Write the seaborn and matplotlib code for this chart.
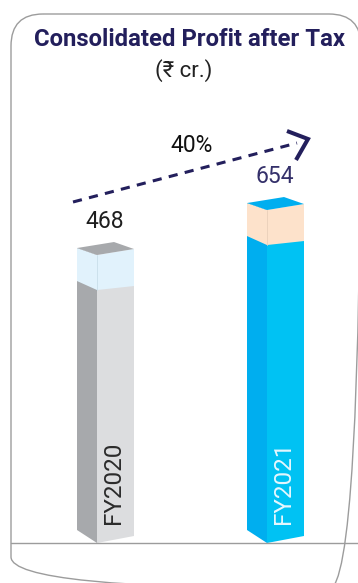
import numpy as np
import pandas as pd
import matplotlib
matplotlib.use("Agg")
import matplotlib.pyplot as plt
import seaborn as sns
from matplotlib.patches import Polygon, FancyBboxPatch
from matplotlib.lines import Line2D

# ---- data -------------------------------------------------------------
years = ["FY2020", "FY2021"]
profit = [468, 654]
growth_label = "40%"
title = "Consolidated Profit after Tax"
unit_label = "(\u20b9 cr.)"

# ---- styling ----------------------------------------------------------
front_colors = ["#DCDDDF", "#00C2F3"]
side_colors = ["#A7A9AC", "#00AEEF"]
top_colors = ["#A7A9AC", "#00AEEF"]
cap_colors = ["#E1F2FC", "#FDE2CB"]
cap_edge_colors = ["#C9DEEA", "#E9D0BA"]
year_text_colors = ["#2B2B2B", "#E6F7FE"]
value_text_colors = ["#1E1E1E", "#34306A"]
NAVY = "#231F5C"
FRAME = "#9C9C9C"

W, H = 358, 583
sns.set_theme(style="white")
plt.rcParams["font.family"] = ["Roboto", "DejaVu Sans"]
NARROW = ["Liberation Sans Narrow", "Roboto", "DejaVu Sans"]

fig = plt.figure(figsize=(W / 100, H / 100), dpi=100)
ax = fig.add_axes([0, 0, 1, 1])

df = pd.DataFrame({"year": years, "profit": profit})

# pixel geometry of the value axis
PX_PER_CAT = 170.0     # horizontal distance between bar centres
PX_PER_UNIT = 0.2419   # vertical pixels per crore
BASE = -722.5          # value sitting on the floor line
FLOOR_PX = 543         # floor line, pixels from the top
X0_PX = 115.5          # centre of the first bar front

bar_w = 37 / PX_PER_CAT
sns.barplot(data=df, x="year", y="profit", hue="year", palette=front_colors,
            width=bar_w, saturation=1, legend=False, ax=ax, linewidth=0,
            zorder=2)

ax.set_xlim(-X0_PX / PX_PER_CAT, (W - X0_PX) / PX_PER_CAT)
ax.set_ylim(BASE - (H - FLOOR_PX) / PX_PER_UNIT, BASE + FLOOR_PX / PX_PER_UNIT)
ax.set_axis_off()


def ux(px):
    return px / PX_PER_CAT


def uy(px):
    return px / PX_PER_UNIT


SIDE = ux(20)
CAP = uy(35)

bars = [p for p in ax.patches]
for i, patch in enumerate(bars):
    x0 = patch.get_x()
    x1 = x0 + patch.get_width()
    top = patch.get_height()
    bot = BASE
    # bar rises from the floor line to its value
    patch.set_y(bot)
    patch.set_height(top - bot)
    front = Polygon([(x0, top + uy(6)), (x1, top + uy(6)), (x1, bot + uy(7)),
                     (x0, bot)], closed=True, transform=ax.transData)
    patch.set_clip_path(front)

    left = Polygon([(x0 - SIDE, top + uy(7)), (x0, top), (x0, bot),
                    (x0 - SIDE, bot + uy(13))], closed=True,
                   facecolor=side_colors[i], edgecolor="none", zorder=2)
    ax.add_patch(left)

    cap_front = Polygon([(x0, top), (x1, top + uy(6)), (x1, top - CAP + uy(4)),
                         (x0, top - CAP)], closed=True,
                        facecolor=cap_colors[i], edgecolor="none", zorder=3)
    cap_left = Polygon([(x0 - SIDE, top + uy(7)), (x0, top), (x0, top - CAP),
                        (x0 - SIDE, top - CAP + uy(9))], closed=True,
                       facecolor=cap_colors[i], edgecolor="none", zorder=3)
    lid = Polygon([(x0 - SIDE, top + uy(7)), (x0, top), (x1, top + uy(6)),
                   (x1 - SIDE, top + uy(13))], closed=True,
                  facecolor=top_colors[i], edgecolor="none", zorder=3)
    for p in (cap_front, cap_left, lid):
        ax.add_patch(p)
    ax.plot([x0, x0], [top, top - CAP], color=cap_edge_colors[i], lw=0.6,
            zorder=4)

    # value above the bar
    ax.text(x0 + (x1 - x0) / 2 - ux(11), top + uy(34), f"{profit[i]}",
            ha="center", va="center", fontsize=16.5, fontweight="normal",
            color=value_text_colors[i], zorder=5)
    # year written up the bar front
    ax.text(x0 + (x1 - x0) / 2 - ux(2), bot + uy(60), years[i], rotation=90,
            ha="center", va="center", fontsize=17.5, fontweight="normal",
            color=year_text_colors[i], zorder=5)

# ---- overlay in pixel coordinates: frame, titles, growth arrow ---------
ov = fig.add_axes([0, 0, 1, 1], facecolor="none")
ov.set_xlim(0, W)
ov.set_ylim(H, 0)
ov.set_axis_off()

frame = FancyBboxPatch((11, 14), 350, 575,
                       boxstyle="round,pad=0,rounding_size=32",
                       facecolor="none", edgecolor=FRAME, lw=1.0)
ov.add_patch(frame)
ov.add_line(Line2D([11, W], [FLOOR_PX, FLOOR_PX], color=FRAME, lw=1.0))

ov.text(190, 39, title, ha="center", va="center", fontsize=17.2,
        fontweight="bold", color=NAVY, family=NARROW)
ov.text(184, 71, unit_label, ha="center", va="center", fontsize=16,
        color="#222222", family=NARROW)

ov.add_line(Line2D([73, 297], [202, 143], color=NAVY, lw=2.2,
                   linestyle=(0, (3.0, 2.4)), solid_capstyle="butt",
                   dash_capstyle="butt"))
ov.add_line(Line2D([287, 308, 296], [131, 139, 160], color=NAVY, lw=2.9,
                   solid_joinstyle="miter", solid_capstyle="butt"))
ov.text(192, 145, growth_label, ha="center", va="center", fontsize=16.5,
        fontweight="normal", color="#111111")

fig.savefig("out.png", dpi=100)
